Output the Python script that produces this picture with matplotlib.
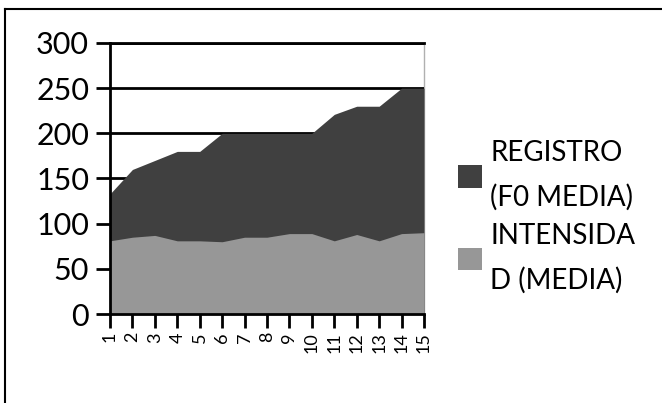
import matplotlib
matplotlib.use("Agg")
from matplotlib import pyplot as plt
from matplotlib.lines import Line2D

plt.rcParams['font.family'] = ['Lato', 'DejaVu Sans']

sessions = list(range(1, 16))
registro_f0 = [133, 160, 170, 180, 180, 200, 200, 200, 200, 200, 221, 230, 230, 250, 250]
intensidad = [81, 85, 87, 81, 81, 80, 85, 85, 89, 89, 81, 88, 81, 89, 90]

series_labels = ['REGISTRO\n(F0 MEDIA)', 'INTENSIDA\nD (MEDIA)']
dark = '#404040'
light = '#979797'

W, H = 662, 403
fig = plt.figure(figsize=(W / 100, H / 100), dpi=100)
ax = fig.add_axes([110 / W, 1 - 314 / H, (424 - 110) / W, (314 - 43) / H])

# overlapping (not stacked) areas, F0 behind intensity
h1 = ax.fill_between(sessions, 0, registro_f0, color=dark, lw=0, zorder=2,
                     label=series_labels[0])
h2 = ax.fill_between(sessions, 0, intensidad, color=light, lw=0, zorder=2.1,
                     label=series_labels[1])

ax.set_xlim(1, 15)
ax.set_ylim(0, 300)
ax.set_yticks(range(0, 301, 50))
ax.set_xticks(sessions)
ax.set_xticklabels([str(s) for s in sessions], rotation=90, fontsize=13)
ax.tick_params(axis='y', labelsize=22, length=10, width=2, pad=5)
ax.tick_params(axis='x', length=10, width=2, pad=3, direction='out')

ax.yaxis.grid(True, color='black', lw=2, zorder=1)
ax.set_axisbelow(True)

for side in ('left', 'bottom'):
    ax.spines[side].set_linewidth(2)
    ax.spines[side].set_zorder(3)
ax.spines['top'].set_linewidth(2)
ax.spines['right'].set_color('#b0b0b0')
ax.spines['right'].set_linewidth(1)
ax.spines['right'].set_zorder(0.5)

leg = fig.legend(handles=[h1, h2], labels=series_labels, loc='center left',
                 bbox_to_anchor=(458 / W, 1 - 217 / H), frameon=False, fontsize=20,
                 handlelength=0.86, handleheight=0.86, handletextpad=0.3,
                 labelspacing=0.45, borderpad=0, borderaxespad=0)
for t in leg.get_texts():
    t.set_linespacing(1.8)

# outer chart frame (left and top edges)
fig.add_artist(Line2D([5 / W, 5 / W], [0, 1 - 9 / H], color='black', lw=1.5))
fig.add_artist(Line2D([5 / W, 1], [1 - 9 / H, 1 - 9 / H], color='black', lw=1.5))

plt.savefig('out.png', dpi=100)
